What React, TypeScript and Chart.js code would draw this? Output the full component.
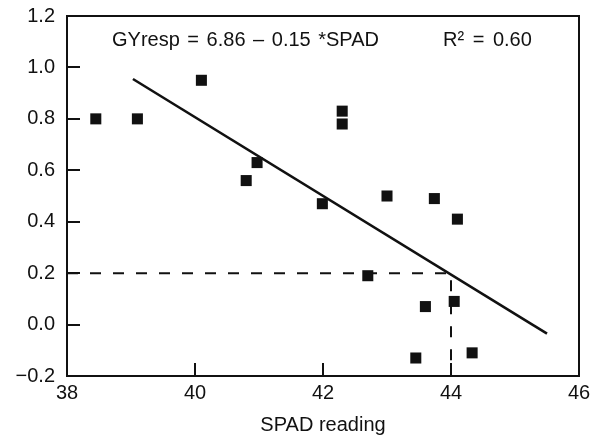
import React, { useEffect, useRef } from "react";
import { Chart, registerables } from "chart.js";

Chart.register(...registerables);

// Observed data (SPAD reading vs grain yield response)
const spadValues = [38.45, 39.1, 40.1, 40.8, 40.97, 41.99, 42.3, 42.3, 42.7, 43.0, 43.74, 44.1, 43.6, 44.05, 43.45, 44.33];
const gyRespValues = [0.80, 0.80, 0.95, 0.56, 0.63, 0.47, 0.83, 0.78, 0.19, 0.50, 0.49, 0.41, 0.07, 0.09, -0.13, -0.11];

// Fitted regression line endpoints (as drawn)
const fitX = [39.03, 45.5];
const fitY = [0.955, -0.035];

// Dashed guide line: threshold
const guideX = [38, 44, 44];
const guideY = [0.2, 0.2, -0.2];

const xTicks = { min: 38, max: 46, step: 2 };
const yTicks = { min: -0.2, max: 1.2, step: 0.2 };

const equationText = "GYresp = 6.86 \u2013 0.15 *SPAD";
const r2Text = "R\u00B2 = 0.60";
const xTitle = "SPAD reading";

const FONT = "'Liberation Sans', Arial, Helvetica, sans-serif";
const INK = "#111";

const framePlugin = {
  id: "frameTicks",
  beforeDatasetsDraw(chart: any) {
    const { ctx, chartArea: a, scales } = chart;
    const x = scales.x;
    const y = scales.y;
    ctx.save();
    ctx.strokeStyle = INK;
    ctx.lineWidth = 2;
    ctx.strokeRect(a.left, a.top, a.right - a.left, a.bottom - a.top);
    ctx.beginPath();
    y.ticks.forEach((t: any) => {
      const py = Math.round(y.getPixelForValue(t.value));
      ctx.moveTo(a.left, py);
      ctx.lineTo(a.left + 13, py);
    });
    x.ticks.forEach((t: any) => {
      const px = Math.round(x.getPixelForValue(t.value));
      ctx.moveTo(px, a.bottom);
      ctx.lineTo(px, a.bottom - 13);
    });
    ctx.stroke();
    ctx.restore();
  },
  afterDraw(chart: any) {
    const { ctx, chartArea: a } = chart;
    ctx.save();
    ctx.fillStyle = INK;
    ctx.font = `20px ${FONT}`;
    ctx.textBaseline = "alphabetic";
    ctx.textAlign = "left";
    (ctx as any).wordSpacing = "2px";
    ctx.fillText(equationText, a.left + 45, a.top + 30);
    (ctx as any).wordSpacing = "3px";
    ctx.fillText(r2Text, a.left + 376, a.top + 30);
    ctx.restore();
  },
};

export default function App() {
  const ref = useRef<HTMLCanvasElement>(null);

  useEffect(() => {
    document.body.style.margin = "0";
    const canvas = ref.current;
    if (!canvas) return;
    const points = spadValues.map((v, i) => ({ x: v, y: gyRespValues[i] }));
    const fit = fitX.map((v, i) => ({ x: v, y: fitY[i] }));
    const guide = guideX.map((v, i) => ({ x: v, y: guideY[i] }));

    const chart = new Chart(canvas, {
      type: "scatter",
      data: {
        datasets: [
          {
            label: "guide",
            data: guide,
            showLine: true,
            borderColor: INK,
            borderWidth: 2,
            borderDash: [11, 12],
            pointRadius: 0,
            fill: false,
          },
          {
            label: "fit",
            data: fit,
            showLine: true,
            borderColor: INK,
            borderWidth: 2.6,
            pointRadius: 0,
            fill: false,
          },
          {
            label: "observed",
            data: points,
            pointStyle: "rect",
            pointRadius: 7.8,
            pointBorderWidth: 0,
            backgroundColor: INK,
            borderColor: INK,
          },
        ],
      },
      plugins: [framePlugin],
      options: {
        animation: false,
        responsive: false,
        maintainAspectRatio: false,
        layout: { padding: { left: 0, top: 16, right: 16, bottom: 0 } },
        plugins: {
          legend: { display: false },
          tooltip: { enabled: false },
        },
        scales: {
          x: {
            type: "linear",
            min: xTicks.min,
            max: xTicks.max,
            grid: { display: false, drawTicks: false },
            border: { display: false },
            ticks: {
              stepSize: xTicks.step,
              padding: 5,
              color: INK,
              font: { family: FONT, size: 20 },
              callback: (v: any) => String(v),
            },
            title: {
              display: true,
              text: xTitle,
              color: INK,
              font: { family: FONT, size: 20 },
              padding: { top: 0, bottom: 3 },
            },
            afterFit: (s: any) => {
              s.height = 64;
              s.paddingLeft = 0;
              s.paddingRight = 0;
            },
          },
          y: {
            type: "linear",
            min: yTicks.min,
            max: yTicks.max,
            grid: { display: false, drawTicks: false },
            border: { display: false },
            ticks: {
              stepSize: yTicks.step,
              padding: 12,
              color: INK,
              font: { family: FONT, size: 20 },
              callback: (v: any) => {
                const n = Number(v);
                const s = Math.abs(n).toFixed(1);
                return n < -1e-9 ? "\u2212" + s : s;
              },
            },
            afterFit: (s: any) => {
              s.width = 67;
              s.paddingTop = 0;
              s.paddingBottom = 0;
            },
          },
        },
      },
    });
    return () => chart.destroy();
  }, []);

  return (
    <div style={{ width: 595, height: 440, background: "#fff" }}>
      <canvas ref={ref} width={595} height={440} />
    </div>
  );
}
